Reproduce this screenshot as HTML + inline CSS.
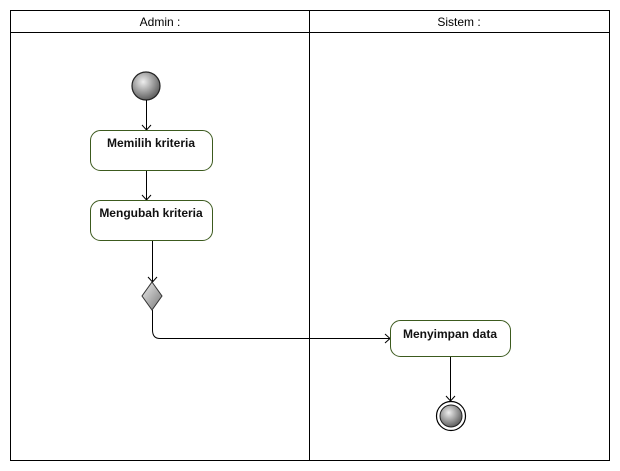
<!DOCTYPE html>
<html><head><meta charset="utf-8"><style>body{margin:0;background:#fff}svg{display:block}</style></head><body>
<svg width="620" height="471" viewBox="0 0 620 471" xmlns="http://www.w3.org/2000/svg" font-family="Liberation Sans, sans-serif">
<defs>
<radialGradient id="g" cx="0.4" cy="0.35" r="0.7"><stop offset="0" stop-color="#eee"/><stop offset="1" stop-color="#555"/></radialGradient>
<linearGradient id="d" x1="0" y1="0" x2="1" y2="1"><stop offset="0" stop-color="#eee"/><stop offset="1" stop-color="#777"/></linearGradient>
</defs>
<rect x="10.5" y="10.5" width="599" height="450" fill="#fff" stroke="#000"/>
<line x1="10" y1="32.5" x2="610" y2="32.5" stroke="#000"/>
<line x1="309.5" y1="10" x2="309.5" y2="461" stroke="#000"/>
<text x="160" y="26" font-size="12" text-anchor="middle">Admin :</text>
<text x="459" y="26" font-size="12" text-anchor="middle">Sistem :</text>
<circle cx="146" cy="86" r="14" fill="url(#g)" stroke="#222" stroke-width="1.2"/>
<g stroke="#000" fill="none">
<line x1="146.5" y1="100" x2="146.5" y2="130"/><path d="M142 125 L146.5 130 L151 125"/>
<line x1="146.5" y1="170" x2="146.5" y2="200"/><path d="M142 195 L146.5 200 L151 195"/>
<line x1="152.5" y1="240" x2="152.5" y2="282"/><path d="M148 277 L152.5 282 L157 277"/>
<path d="M152.5 310 V330 Q152.5 338.5 160 338.5 H390"/><path d="M385 334 L390 338.5 L385 343"/>
<line x1="450.5" y1="356" x2="450.5" y2="401"/><path d="M446 396 L450.5 401 L455 396"/>
</g>
<rect x="90.5" y="130.5" width="122" height="40" rx="10" fill="#fff" stroke="#3c5a1e"/>
<rect x="90.5" y="200.5" width="122" height="40" rx="10" fill="#fff" stroke="#3c5a1e"/>
<rect x="390.5" y="320.5" width="120" height="36" rx="10" fill="#fff" stroke="#3c5a1e"/>
<g font-size="12" font-weight="bold" fill="#111" text-anchor="middle">
<text x="151" y="147">Memilih kriteria</text>
<text x="151" y="217">Mengubah kriteria</text>
<text x="450" y="338">Menyimpan data</text>
</g>
<polygon points="152,282 162,296 152,310 142,296" fill="url(#d)" stroke="#333"/>
<circle cx="451" cy="416" r="14.5" fill="#fff" stroke="#000" stroke-width="1.2"/>
<circle cx="451" cy="416" r="11" fill="url(#g)" stroke="#222"/>
</svg>
</body></html>
